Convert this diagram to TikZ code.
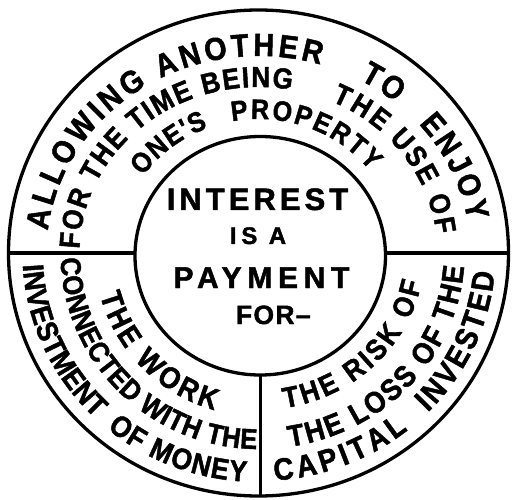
\documentclass[tikz,border=0pt]{standalone}
\usepackage{fontspec}
\usetikzlibrary{decorations.text,shapes.geometric}
\newfontfamily\arcfont{Liberation Sans}[FakeStretch=0.9,FakeBold=1.5]
\newfontfamily\midfont{Liberation Sans}[FakeBold=1.5]
\newcommand\arcline[6]{%
  \path[decorate,decoration={text along path,text align={fit to path},
    text={|\arcfont\bfseries\fontsize{#5pt}{#5pt}\selectfont|#6}}]
    (O) ++(#3:#1pt and #2pt) arc[start angle=#3,end angle=#4,x radius=#1pt,y radius=#2pt];}
\newcommand\midfnt[2]{\midfont\bfseries\fontsize{#1pt}{#1pt}\selectfont\addfontfeature{LetterSpace=#2}}
\tikzset{
  rimline/.style={draw=black,line width=3.3pt,ellipse,inner sep=0pt,outer sep=0pt},
  divline/.style={draw=black,line width=3.2pt},
  midtext/.style={inner sep=0pt,outer sep=0pt,anchor=base,text=black}
}
\begin{document}
\begin{tikzpicture}[x=1pt,y=1pt]
\fill[white] (0,0) rectangle (512,499);
\useasboundingbox (0,0) rectangle (512,499);
\coordinate (O) at (258.5,246);
\node[rimline,minimum width=500pt,minimum height=486pt] (rim) at (258.5,246) {};
\node[rimline,minimum width=250.5pt,minimum height=238.5pt] (core) at (260.25,243.25) {};
\draw[divline] (rim.west) -- (rim.west -| core.west);
\draw[divline] (rim.east) -- (rim.east -| core.east);
\draw[divline] (core.south) -- (core.south |- rim.south);
% centre
\node[midtext,font=\midfnt{31}{13}] (l1) at (257.5,289) {INTEREST};
\node[midtext,font=\midfnt{24}{20}] (l2) at (258,255) {IS A};
\node[midtext,font=\midfnt{30}{19}] (l3) at (261.5,211) {PAYMENT};
\node[midtext,font=\midfnt{26.5}{5}] (l4) at (273.3,175) {FOR–};
% top rows
\arcline{212}{197}{173.5}{73}{32}{ALLOWING ANOTHER}
\arcline{212}{197}{61.5}{49.7}{32}{TO}
\arcline{212}{197}{40.9}{9.3}{32}{ENJOY}
\arcline{179}{166}{178.6}{79.3}{29}{FOR THE TIME BEING}
\arcline{179}{166}{66}{46.9}{29}{THE}
\arcline{179}{166}{43.3}{6.4}{29}{USE OF}
\arcline{141}{134}{145}{111}{28}{ONE'S}
\arcline{141}{134}{100.8}{37.7}{28}{PROPERTY}
% bottom left
\arcline{236}{229}{183}{226.2}{29.5}{INVESTMENT}
\arcline{236}{229}{230.1}{267}{29.5}{OF MONEY}
\arcline{198}{196}{181.5}{269.5}{28.5}{CONNECTED WITH THE}
\arcline{164}{163}{194.9}{254.4}{30}{THE WORK}
% bottom right
\arcline{166}{157}{279.1}{349.1}{29}{THE RISK OF}
\arcline{206}{196}{278.7}{356}{30}{THE LOSS OF THE}
\arcline{237}{228}{273.9}{309.1}{31}{CAPITAL}
\arcline{237}{228}{315.6}{355.1}{31}{INVESTED}
\end{tikzpicture}
\end{document}
